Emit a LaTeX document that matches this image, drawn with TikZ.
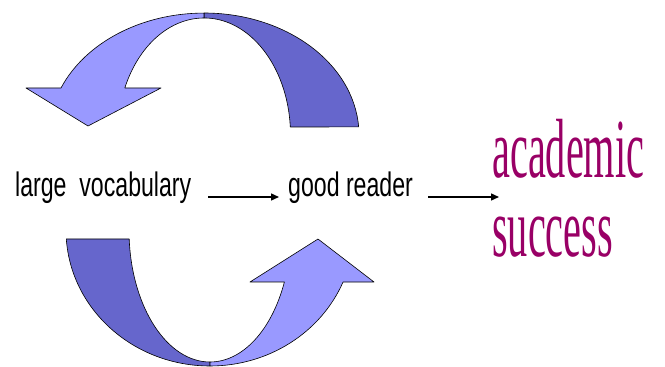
\documentclass[tikz,border=0pt]{standalone}
\usepackage{fontspec}
\usepackage{graphicx}
\setmainfont{Liberation Sans}
\newfontfamily\goalfont{Liberation Serif}
\usetikzlibrary{arrows.meta}
\definecolor{lightband}{HTML}{9999FF}
\definecolor{darkband}{HTML}{6666CC}
\definecolor{goalcolor}{HTML}{990066}
\tikzset{
  band/.style={draw=black,line width=0.6pt,line join=round},
  step label/.style={inner sep=0pt,anchor=base west,font=\fontsize{34}{34}\selectfont},
  goal label/.style={inner sep=0pt,anchor=base west,text=goalcolor,font=\goalfont\fontsize{84}{84}\selectfont},
  flow/.style={-{Triangle[length=8pt,width=7pt]},line width=1.4pt}
}

\begin{document}
\begin{tikzpicture}[x=1pt,y=1pt]
    \useasboundingbox (0,0) rectangle (665,367);

    % Top curved arrow
    \draw[band,fill=darkband] (204,354) arc[start angle=90,end angle=3.8,x radius=155,y radius=122]
        -- (290.3,240) arc[start angle=3.9,end angle=90,x radius=86.5,y radius=117] -- cycle;
    \draw[band,fill=lightband] (61,279) arc[start angle=157.3,end angle=90,x radius=155,y radius=122]
        -- (204,349) arc[start angle=90,end angle=156.3,x radius=86.5,y radius=117]
        -- (161,279) -- (88,241) -- (26,279) -- cycle;

    % Bottom curved arrow
    \draw[band,fill=darkband] (66.3,128) arc[start angle=183.8,end angle=270,x radius=144,y radius=136]
        -- (210,5) arc[start angle=270,end angle=183.9,x radius=81,y radius=132] -- cycle;
    \draw[band,fill=lightband] (210,1) arc[start angle=270,end angle=337.5,x radius=144,y radius=136]
        -- (374,85) -- (318,128) -- (250,85)
        -- (284.4,85) arc[start angle=336.8,end angle=270,x radius=81,y radius=132] -- cycle;

    % Labels
    \node[step label] (vocab) at (15,170) {\scalebox{0.68}[1]{large\ \ vocabulary}};
    \node[step label] (reader) at (288,170) {\scalebox{0.68}[1]{good reader}};
    \node[goal label] (academic) at (492,189) {\scalebox{0.48}[1]{academic}};
    \node[goal label] (success) at (492,110) {\scalebox{0.48}[1]{success}};
    \coordinate (goal) at (499,170);

    % Arrows
    \draw[flow,shorten <=17pt,shorten >=9pt] (vocab.base east) -- (reader.base west);
    \draw[flow,shorten <=15pt] (reader.base east) -- (goal);
\end{tikzpicture}
\end{document}
